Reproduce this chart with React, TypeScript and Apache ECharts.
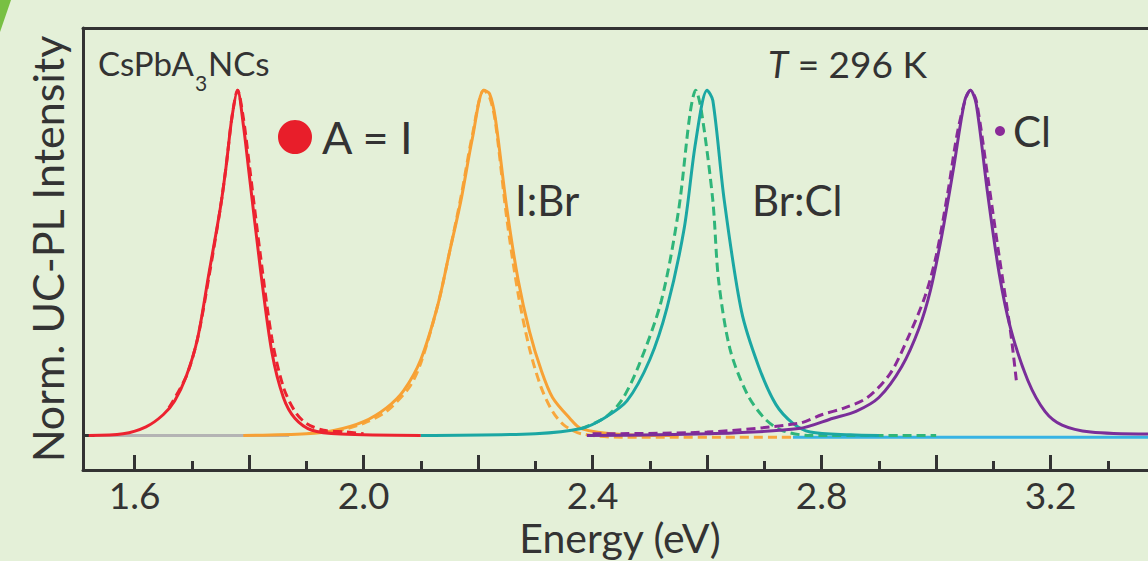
import React, { useEffect, useRef } from "react";
import * as echarts from "echarts";

const majorTicks = [1.6, 1.8, 2.0, 2.2, 2.4, 2.6, 2.8, 3.0, 3.2];
const minorTicks = [1.7, 1.9, 2.1, 2.3, 2.5, 2.7, 2.9, 3.1, 3.3];
const tickLabels = [1.6, 2.0, 2.4, 2.8, 3.2];

const grayBase = [[1.53, 0], [1.87, 0]];
const redSolid = [[1.52, 0], [1.58, 0.005], [1.62, 0.025], [1.65, 0.06], [1.67, 0.1], [1.69, 0.17], [1.71, 0.28], [1.73, 0.47], [1.75, 0.66], [1.76, 0.78], [1.77, 0.92], [1.78, 1.0], [1.79, 0.9], [1.8, 0.76], [1.82, 0.48], [1.84, 0.24], [1.86, 0.11], [1.88, 0.05], [1.91, 0.015], [1.96, 0.004], [2.1, 0]];
const redDashed = [[1.66, 0.08], [1.69, 0.17], [1.71, 0.28], [1.73, 0.46], [1.75, 0.66], [1.76, 0.78], [1.77, 0.92], [1.78, 1.0], [1.79, 0.92], [1.8, 0.79], [1.82, 0.52], [1.84, 0.28], [1.86, 0.14], [1.88, 0.07], [1.9, 0.035], [1.93, 0.015], [1.97, 0.01], [2.0, 0.005]];
const orangeSolid = [[1.79, 0], [1.9, 0.005], [1.95, 0.015], [2.0, 0.04], [2.04, 0.08], [2.07, 0.13], [2.1, 0.22], [2.13, 0.38], [2.15, 0.53], [2.17, 0.68], [2.19, 0.86], [2.21, 1.0], [2.22, 0.99], [2.23, 0.92], [2.25, 0.66], [2.27, 0.45], [2.29, 0.3], [2.31, 0.19], [2.33, 0.11], [2.36, 0.05], [2.38, 0.02], [2.45, 0.003], [2.55, 0]];
const orangeDashed = [[1.95, 0.01], [2.0, 0.035], [2.04, 0.07], [2.08, 0.14], [2.1, 0.21], [2.13, 0.38], [2.15, 0.53], [2.17, 0.69], [2.19, 0.87], [2.21, 1.0], [2.22, 0.98], [2.23, 0.91], [2.25, 0.63], [2.27, 0.41], [2.29, 0.25], [2.31, 0.14], [2.33, 0.07], [2.35, 0.03], [2.38, 0.005], [2.45, -0.005], [2.75, -0.005]];
const tealSolid = [[2.1, 0], [2.3, 0.005], [2.38, 0.02], [2.42, 0.05], [2.46, 0.1], [2.5, 0.22], [2.53, 0.37], [2.56, 0.6], [2.58, 0.85], [2.6, 1.0], [2.61, 0.97], [2.63, 0.68], [2.66, 0.36], [2.69, 0.2], [2.72, 0.09], [2.75, 0.035], [2.78, 0.01], [2.85, 0.002], [2.9, 0]];
const greenDashed = [[2.38, 0.02], [2.42, 0.05], [2.45, 0.1], [2.48, 0.2], [2.52, 0.39], [2.55, 0.65], [2.57, 0.93], [2.58, 1.0], [2.59, 0.94], [2.61, 0.68], [2.62, 0.45], [2.64, 0.25], [2.67, 0.12], [2.7, 0.05], [2.73, 0.015], [2.78, 0], [3.0, 0]];
const purpleSolid = [[2.39, 0], [2.6, 0.005], [2.76, 0.02], [2.82, 0.05], [2.86, 0.07], [2.9, 0.11], [2.94, 0.2], [2.97, 0.31], [2.99, 0.42], [3.01, 0.58], [3.03, 0.77], [3.05, 0.97], [3.06, 1.0], [3.07, 0.96], [3.09, 0.7], [3.11, 0.47], [3.13, 0.31], [3.16, 0.16], [3.19, 0.07], [3.22, 0.03], [3.27, 0.01], [3.37, 0.004]];
const purpleDashed = [[2.4, 0.005], [2.6, 0.01], [2.76, 0.035], [2.8, 0.06], [2.84, 0.08], [2.88, 0.11], [2.92, 0.18], [2.95, 0.28], [2.98, 0.4], [3.0, 0.52], [3.02, 0.7], [3.04, 0.9], [3.06, 1.0], [3.07, 0.97], [3.09, 0.75], [3.11, 0.52], [3.13, 0.3], [3.14, 0.16]];
const cyanBase = [[2.75, -0.005], [3.37, -0.005]];

const FONT = "Lato";
const TXT = "#333333";
const X_MIN = 1.51;
const X_MAX = 3.37;

function line(data: number[][], color: string, dashed: boolean, z: number) {
  return {
    type: "line",
    data,
    showSymbol: false,
    smooth: 0.3,
    z,
    lineStyle: { color, width: 3, type: dashed ? [9, 5] : "solid" },
  };
}

export default function App() {
  const ref = useRef<HTMLDivElement>(null);
  useEffect(() => {
    const chart = echarts.init(ref.current!, null, { renderer: "svg" });
    chart.setOption({
      animation: false,
      backgroundColor: "#e4f0d8",
      grid: { left: 83, top: 28, bottom: 91, right: 0, show: false },
      xAxis: [
        {
          type: "value", min: X_MIN, max: X_MAX, position: "bottom",
          axisLine: { show: true, onZero: false, lineStyle: { color: "#333", width: 3 } },
          axisTick: { show: true, inside: true, length: 15, customValues: majorTicks, lineStyle: { color: "#333", width: 3 } },
          axisLabel: { show: true, customValues: tickLabels, margin: 9, lineHeight: 30, color: TXT, fontSize: 37, fontFamily: FONT, formatter: (v: number) => v.toFixed(1) },
          splitLine: { show: false },
        },
        {
          type: "value", min: X_MIN, max: X_MAX, position: "bottom",
          axisLine: { show: false, onZero: false },
          axisTick: { show: true, inside: true, length: 9, customValues: minorTicks, lineStyle: { color: "#333", width: 3 } },
          axisLabel: { show: false },
          splitLine: { show: false },
        },
        {
          type: "value", min: X_MIN, max: X_MAX, position: "top",
          axisLine: { show: true, onZero: false, lineStyle: { color: "#333", width: 3 } },
          axisTick: { show: false },
          axisLabel: { show: false },
          splitLine: { show: false },
        },
      ],
      yAxis: {
        type: "value", min: -0.1, max: 1.18,
        axisLine: { show: true, onZero: false, lineStyle: { color: "#333", width: 3 } },
        axisTick: { show: true, inside: true, length: 12, customValues: [0], lineStyle: { color: "#333", width: 3 } },
        axisLabel: { show: false },
        splitLine: { show: false },
      },
      series: [
        line(grayBase, "#b4b4b4", false, 1),
        line(redSolid, "#ec2330", false, 3),
        line(redDashed, "#ec2330", true, 3),
        line(orangeDashed, "#f8a73c", true, 2),
        line(orangeSolid, "#f7a135", false, 2),
        line(cyanBase, "#37b3e4", false, 2),
        line(greenDashed, "#2fb57a", true, 4),
        line(tealSolid, "#1ba7a3", false, 4),
        line(purpleDashed, "#8a2a98", true, 5),
        line(purpleSolid, "#7a2e9a", false, 5),
      ],
      graphic: [
        { type: "polygon", shape: { points: [[0, 0], [11, 0], [0, 32]] }, style: { fill: "#78c043" }, z: 10 },
        { type: "text", x: 47, y: 249, rotation: Math.PI / 2, style: { text: "Norm. UC-PL Intensity", fontSize: 43, fontFamily: FONT, fill: TXT, align: "center", verticalAlign: "middle" }, z: 10 },
        { type: "text", x: 620, y: 537, style: { text: "Energy (eV)", fontSize: 41, lineHeight: 42, fontFamily: FONT, fill: TXT, align: "center", verticalAlign: "middle" }, z: 10 },
        { type: "text", x: 98, y: 63, style: { text: "CsPbA", fontSize: 33, fontFamily: FONT, fill: TXT, align: "left", verticalAlign: "middle" }, z: 10 },
        { type: "text", x: 195, y: 82, style: { text: "3", fontSize: 21, fontFamily: FONT, fill: TXT, align: "left", verticalAlign: "middle" }, z: 10 },
        { type: "text", x: 208, y: 63, style: { text: "NCs", fontSize: 33, fontFamily: FONT, fill: TXT, align: "left", verticalAlign: "middle" }, z: 10 },
        { type: "text", x: 768, y: 63, style: { text: "{i|T} = 296 K", fontSize: 37, fontFamily: FONT, fill: TXT, align: "left", verticalAlign: "middle", rich: { i: { fontStyle: "italic", fontSize: 37, fontFamily: FONT, fill: TXT } } }, z: 10 },
        { type: "circle", shape: { cx: 295, cy: 137, r: 17 }, style: { fill: "#e81e2a" }, z: 10 },
        { type: "text", x: 322, y: 137, style: { text: "A = I", fontSize: 45, fontFamily: FONT, fill: TXT, align: "left", verticalAlign: "middle" }, z: 10 },
        { type: "text", x: 515, y: 200, style: { text: "I:Br", fontSize: 42, fontFamily: FONT, fill: TXT, align: "left", verticalAlign: "middle" }, z: 10 },
        { type: "text", x: 752, y: 200, style: { text: "Br:Cl", fontSize: 42, fontFamily: FONT, fill: TXT, align: "left", verticalAlign: "middle" }, z: 10 },
        { type: "circle", shape: { cx: 1000, cy: 131, r: 5 }, style: { fill: "#8a2a98" }, z: 10 },
        { type: "text", x: 1013, y: 131, style: { text: "Cl", fontSize: 42, fontFamily: FONT, fill: TXT, align: "left", verticalAlign: "middle" }, z: 10 },
      ],
    });
    return () => chart.dispose();
  }, []);
  return <div ref={ref} style={{ position: "absolute", left: 0, top: 0, width: 1148, height: 561 }} />;
}
